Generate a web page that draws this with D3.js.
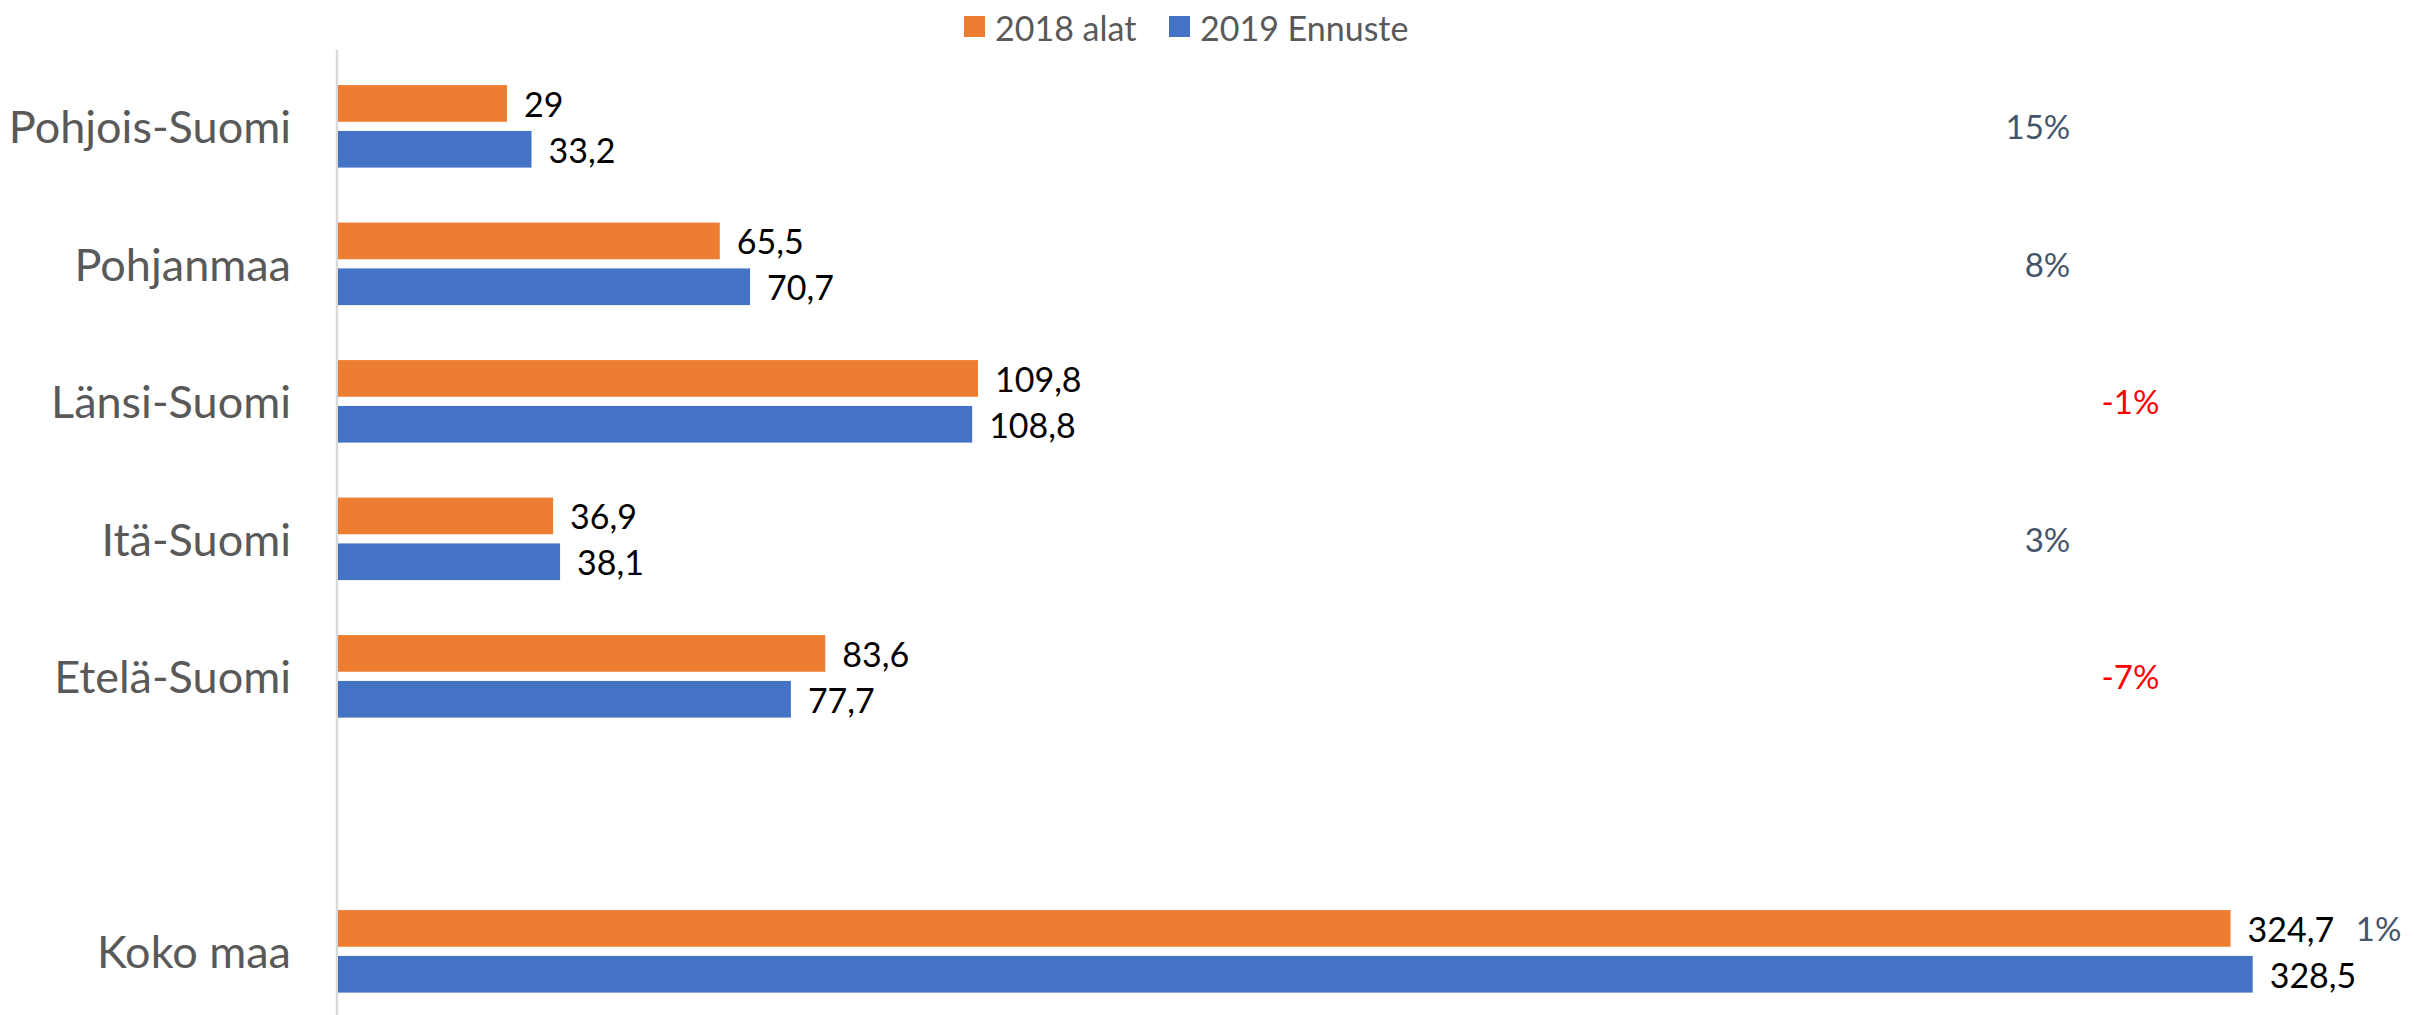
<!DOCTYPE html>
<html>
<head>
<meta charset="utf-8">
<script src="https://cdn.jsdelivr.net/npm/d3@7"></script>
<style>
  body { margin: 0; background: #fff; }
  svg { display: block; }
  text { font-family: Lato, "Open Sans", sans-serif; }
</style>
</head>
<body>
<svg id="chart" width="2430" height="1015"></svg>
<script>

const width = 2430
const height = 1015

// data ( "" is the empty slot before Koko maa )
const categories = [ "Pohjois-Suomi", "Pohjanmaa", "Länsi-Suomi", "Itä-Suomi", "Etelä-Suomi", "", "Koko maa" ]
const seriesNames = [ "2018 alat", "2019 Ennuste" ]
const values2018 = [ 29, 65.5, 109.8, 36.9, 83.6, null, 324.7 ]
const values2019 = [ 33.2, 70.7, 108.8, 38.1, 77.7, null, 328.5 ]
const changeLabels = [ "15%", "8%", "-1%", "3%", "-7%", null, "1%" ]

const colors = [ "#ED7D31", "#4472C4" ]

const svg = d3.select("#chart")

const x = d3.scaleLinear()
            .domain([ 0, 350 ])
            .range([ 338, 2378 ])

const y = d3.scaleBand()
            .domain( categories.map( (c, i) => i ) )
            .range([ 57.6, 1020.1 ])

const ySub = d3.scaleBand()
               .domain( seriesNames )
               .range([ 0, y.bandwidth() ])
               .paddingInner( 0.2 )
               .paddingOuter( 0.6 )

const fmt = v => String( v ).replace( ".", "," )

// axis line
svg.append("line")
   .attr("x1", 337).attr("x2", 337)
   .attr("y1", 50).attr("y2", height)
   .attr("stroke", "#d9d9d9")
   .attr("stroke-width", 2.5)

// category labels
svg.selectAll(".cat")
   .data( categories )
   .enter()
   .append("text")
   .attr("class", "cat")
   .attr("x", 291)
   .attr("y", (d, i) => y(i) + y.bandwidth() / 2 )
   .attr("text-anchor", "end")
   .attr("dominant-baseline", "central")
   .attr("font-size", 45)
   .attr("fill", "#595959")
   .text( d => d )

const rows = []
categories.forEach( (c, i) => {
  if ( values2018[ i ] == null ) return
  rows.push({ i: i, s: seriesNames[ 0 ], v: values2018[ i ], color: colors[ 0 ] })
  rows.push({ i: i, s: seriesNames[ 1 ], v: values2019[ i ], color: colors[ 1 ] })
})

svg.selectAll(".bar")
   .data( rows )
   .enter()
   .append("rect")
   .attr("class", "bar")
   .attr("x", x(0) )
   .attr("y", d => y(d.i) + ySub(d.s) )
   .attr("width", d => x(d.v) - x(0) )
   .attr("height", ySub.bandwidth() )
   .attr("fill", d => d.color )

svg.selectAll(".val")
   .data( rows )
   .enter()
   .append("text")
   .attr("class", "val")
   .attr("x", d => x(d.v) + 17 )
   .attr("y", d => y(d.i) + ySub(d.s) + ySub.bandwidth() / 2 )
   .attr("dominant-baseline", "central")
   .attr("font-size", 34)
   .attr("fill", "#000")
   .text( d => fmt( d.v ) )

// change labels
const lastIndex = categories.length - 1
svg.selectAll(".pct")
   .data( changeLabels.map( (t, i) => ({ t: t, i: i }) ).filter( d => d.t != null ) )
   .enter()
   .append("text")
   .attr("class", "pct")
   .attr("x", d => d.i == lastIndex ? x(346.2) : ( d.t.startsWith("-") ? x(312.5) : x(297.2) ) )
   .attr("y", d => d.i == lastIndex
                   ? y(d.i) + ySub(seriesNames[ 0 ]) + ySub.bandwidth() / 2
                   : y(d.i) + y.bandwidth() / 2 )
   .attr("text-anchor", d => d.i == lastIndex ? "start" : "end")
   .attr("dominant-baseline", "central")
   .attr("font-size", 33)
   .attr("fill", d => d.t.startsWith("-") ? "#FF0000" : "#44546A")
   .text( d => d.t )

// legend
const legendX = [ 964, 1169 ]
const legend = svg.selectAll(".leg")
                  .data( seriesNames )
                  .enter()
                  .append("g")
                  .attr("class", "leg")
                  .attr("transform", (d, i) => "translate(" + legendX[ i ] + ",16)")

legend.append("rect")
      .attr("width", 21)
      .attr("height", 21)
      .attr("fill", (d, i) => colors[ i ])

legend.append("text")
      .attr("x", 31)
      .attr("y", 11)
      .attr("dominant-baseline", "central")
      .attr("font-size", 34)
      .attr("fill", "#595959")
      .text( d => d )

</script>
</body>
</html>
